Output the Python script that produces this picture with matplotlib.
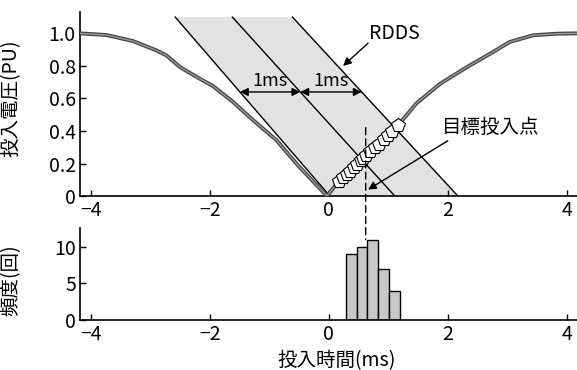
import matplotlib
matplotlib.use('Agg')
import matplotlib.pyplot as plt
from matplotlib.patches import ConnectionPatch
import numpy as np

plt.rcParams['font.family'] = ['Noto Sans CJK JP', 'DejaVu Sans']

# voltage curve (left half, before zero crossing)
left_x = [-4.18, -3.74, -3.29, -2.90, -2.73, -2.50, -2.39, -2.17, -1.94, -1.61, -1.27, -0.88, -0.52, -0.03]
left_y = [1.00, 0.99, 0.953, 0.896, 0.865, 0.793, 0.769, 0.722, 0.675, 0.579, 0.466, 0.344, 0.19, 0.0]
# voltage curve (right half, after zero crossing)
right_x = [-0.03, 0.16, 1.19, 1.47, 1.87, 2.31, 2.71, 3.04, 3.43, 3.83, 4.17]
right_y = [0.0, 0.088, 0.446, 0.569, 0.69, 0.79, 0.875, 0.947, 0.988, 0.998, 1.0]

# measured closing points
pts_x = [0.18, 0.24, 0.30, 0.36, 0.42, 0.48, 0.54, 0.58, 0.63, 0.70, 0.77, 0.84, 0.92, 0.99, 1.07, 1.17]
pts_y = [0.095, 0.116, 0.136, 0.157, 0.178, 0.199, 0.219, 0.233, 0.250, 0.275, 0.299, 0.323, 0.351, 0.375, 0.403, 0.437]

# RDDS band boundary lines (x at top y and at y=0)
band_top = 1.10
line_top_x = [-2.58, -1.62, -0.61]
line_bot_x = [0.02, 1.11, 2.17]

target_t = 0.62

# histogram of closing times
bin_centers = [0.38, 0.56, 0.74, 0.92, 1.10]
counts = [9, 10, 11, 7, 4]
bin_width = 0.18

xticks = [-4, -2, 0, 2, 4]
xticklabels = ['−4', '−2', '0', '2', '4']
yticks_top = [0, 0.2, 0.4, 0.6, 0.8, 1.0]
yticklabels_top = ['0', '0.2', '0.4', '0.6', '0.8', '1.0']
yticks_bot = [0, 5, 10]

fs = 14

fig = plt.figure(figsize=(5.77, 3.70), dpi=100)
ax = fig.add_axes([0.1386, 0.470, 0.8614, 0.497])
ax2 = fig.add_axes([0.1386, 0.135, 0.8614, 0.249])


def line_x_at(i, y):
    return line_top_x[i] + (band_top - y) / band_top * (line_bot_x[i] - line_top_x[i])


# shaded band between first and last lines
ax.fill([line_top_x[0], line_top_x[2], line_bot_x[2], line_bot_x[0]],
        [band_top, band_top, 0, 0], color='#e2e2e2', lw=0, zorder=1)
for i in range(3):
    ax.plot([line_top_x[i], line_bot_x[i]], [band_top, 0], color='black', lw=1.0, zorder=2)

# voltage curve
for xs, ys in [(left_x, left_y), (right_x, right_y)]:
    ax.plot(xs, ys, color='#444444', lw=2.8, solid_capstyle='round', zorder=3)
    ax.plot(xs, ys, color='#9a9a9a', lw=1.0, zorder=4)

ax.plot(pts_x, pts_y, linestyle='none', marker='p', markersize=10,
        markerfacecolor='white', markeredgecolor='black', markeredgewidth=0.8, zorder=5)

# 1ms arrows
y_arr = 0.64
for i in range(2):
    x0 = line_x_at(i, y_arr)
    x1 = line_x_at(i + 1, y_arr)
    ax.annotate('', xy=(x1, y_arr), xytext=(x0, y_arr),
                arrowprops=dict(arrowstyle='<|-|>', color='black', lw=1.0,
                                mutation_scale=12, shrinkA=0, shrinkB=0), zorder=6)
    ax.text((x0 + x1) / 2, 0.655, '1ms', fontsize=13, ha='center', va='bottom', zorder=6)

ax.text(1.11, 1.0, 'RDDS', fontsize=fs, ha='center', va='center')
ax.annotate('', xy=(0.24, 0.80), xytext=(0.66, 0.94),
            arrowprops=dict(arrowstyle='-|>', color='black', lw=1.0,
                            mutation_scale=12, shrinkA=0, shrinkB=0))
ax.text(2.72, 0.42, '目標投入点', fontsize=fs, ha='center', va='center')
ax.annotate('', xy=(0.66, 0.04), xytext=(2.0, 0.34),
            arrowprops=dict(arrowstyle='-|>', color='black', lw=1.0,
                            mutation_scale=12, shrinkA=0, shrinkB=0))

# histogram
ax2.bar(bin_centers, counts, width=bin_width, color='#c8c8c8', edgecolor='black', lw=1.0, zorder=2)

# target time dashed line across both panels
con = ConnectionPatch(xyA=(target_t, 0.42), coordsA=ax.transData,
                      xyB=(target_t, max(counts)), coordsB=ax2.transData,
                      color='black', lw=1.0, linestyle=(0, (5, 3)), zorder=7)
fig.add_artist(con)

for a in (ax, ax2):
    a.set_xlim(-4.18, 4.17)
    a.spines['top'].set_visible(False)
    a.spines['right'].set_visible(False)
    a.spines['left'].set_linewidth(1.2)
    a.spines['bottom'].set_linewidth(1.2)
    a.set_xticks(xticks)
    a.set_xticklabels(xticklabels)
    a.tick_params(direction='in', length=4, width=1, labelsize=fs, pad=3)

ax.set_ylim(0, 1.13)
ax.set_yticks(yticks_top)
ax.set_yticklabels(yticklabels_top)
ax.set_ylabel('投入電圧(PU)', fontsize=fs)
ax.yaxis.set_label_coords(-0.117, 0.53)

ax2.set_ylim(0, 12.6)
ax2.set_yticks(yticks_bot)
ax2.set_ylabel('頻度(回)', fontsize=fs)
ax2.yaxis.set_label_coords(-0.117, 0.43)
ax2.set_xlabel('投入時間(ms)', fontsize=fs)
ax2.xaxis.set_label_coords(0.517, -0.33)

fig.savefig('out.png', dpi=100)
